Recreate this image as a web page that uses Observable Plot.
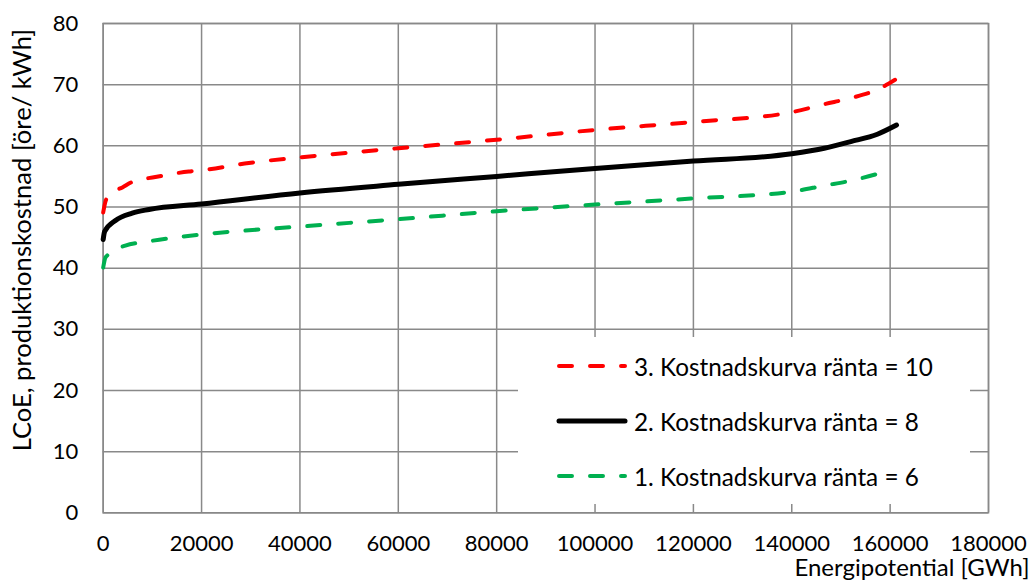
<!DOCTYPE html>
<html>
<head>
<meta charset="utf-8">
<script src="https://cdn.jsdelivr.net/npm/d3@7"></script>
<script src="https://cdn.jsdelivr.net/npm/@observablehq/plot@0.6"></script>
<style>
  html, body { margin: 0; padding: 0; background: #fff; }
  #wrap { position: relative; width: 1032px; height: 580px; font-family: Lato, "Open Sans", sans-serif; }
  #legend { position: absolute; left: 518px; top: 337px; width: 452px; height: 167px; background: #fff; }
  .row { position: absolute; left: 0; height: 30px; display: flex; align-items: center; }
  .row svg { margin-left: 37px; }
  .row span { font-size: 24.3px; color: #000; margin-left: 5px; white-space: nowrap; }
</style>
</head>
<body>
<div id="wrap"></div>
<script>
// ---- data ----
const seriesNames = ["3. Kostnadskurva ränta = 10", "2. Kostnadskurva ränta = 8", "1. Kostnadskurva ränta = 6"];
const seriesColors = ["#FF0000", "#000000", "#00B050"];

const energy10 = [0, 500, 1500, 3900, 5900, 10600, 17400, 20000, 29600, 40000, 60000, 80000, 100000, 120000, 140000, 146600, 152000, 157700, 161000];
const lcoe10   = [49.1, 51.0, 52.2, 53.2, 54.1, 54.9, 55.8, 56.0, 57.2, 58.1, 59.6, 61.0, 62.6, 63.9, 65.5, 66.8, 67.8, 69.3, 70.8];

const energy8 = [0, 300, 2500, 5900, 9300, 20000, 40000, 60000, 80000, 100000, 120000, 140000, 146600, 152000, 157400, 161300];
const lcoe8   = [44.7, 46.0, 47.8, 49.0, 49.6, 50.5, 52.3, 53.7, 55.0, 56.3, 57.5, 58.7, 59.6, 60.7, 61.9, 63.4];

const energy6 = [0, 500, 4500, 8600, 20000, 40000, 60000, 80000, 100000, 120000, 140000, 146600, 152000, 160000];
const lcoe6   = [40.1, 41.8, 43.7, 44.3, 45.5, 46.8, 48.0, 49.3, 50.4, 51.4, 52.5, 53.5, 54.3, 56.0];

const xTicks = [0, 20000, 40000, 60000, 80000, 100000, 120000, 140000, 160000, 180000];
const yTicks = [0, 10, 20, 30, 40, 50, 60, 70, 80];
const xLabel = "Energipotential [GWh]";
const yLabel = "LCoE, produktionskostnad [öre/ kWh]";

const toRows = (xs, ys, s) => xs.map((x, i) => ({x, y: ys[i], s}));
const d10 = toRows(energy10, lcoe10, seriesNames[0]);
const d8  = toRows(energy8, lcoe8, seriesNames[1]);
const d6  = toRows(energy6, lcoe6, seriesNames[2]);

const gridColor = "#898989";
const fontSize = 22;
const labelSize = 24;

const chart = Plot.plot({
  width: 1032,
  height: 580,
  marginLeft: 102.7,
  marginRight: 44,
  marginTop: 23,
  marginBottom: 67.7,
  style: { fontFamily: "Lato, 'Open Sans', sans-serif", fontSize: fontSize + "px", color: "#000", background: "#fff" },
  x: { domain: [0, 180000] },
  y: { domain: [0, 80] },
  marks: [
    Plot.gridX(xTicks, { stroke: gridColor, strokeOpacity: 1, strokeWidth: 1.5 }),
    Plot.gridY(yTicks, { stroke: gridColor, strokeOpacity: 1, strokeWidth: 1.5 }),
    Plot.frame({ stroke: gridColor, strokeWidth: 1.5 }),
    Plot.axisX(xTicks, { tickSize: 0, tickPadding: 22.5, tickFormat: d => String(d), label: null, fontSize: fontSize }),
    Plot.axisY(yTicks, { tickSize: 0, tickPadding: 25, tickFormat: d => String(d), label: null, fontSize: fontSize }),
    Plot.line(d6, { x: "x", y: "y", stroke: seriesColors[2], strokeWidth: 4, strokeDasharray: "13,18", strokeLinecap: "round", curve: "monotone-x" }),
    Plot.line(d10, { x: "x", y: "y", stroke: seriesColors[0], strokeWidth: 4, strokeDasharray: "13,18", strokeLinecap: "round", curve: "monotone-x" }),
    Plot.line(d8, { x: "x", y: "y", stroke: seriesColors[1], strokeWidth: 5, strokeLinecap: "round", curve: "monotone-x" }),
    Plot.text([xLabel], { frameAnchor: "bottom-right", textAnchor: "end", lineAnchor: "middle", dx: 41, dy: 55.5, fontSize: labelSize, fill: "#000" }),
    Plot.text([yLabel], { frameAnchor: "left", textAnchor: "middle", lineAnchor: "middle", rotate: -90, dx: -80, dy: -28, fontSize: 25.6, fill: "#000" })
  ]
});

const wrap = document.getElementById("wrap");
wrap.appendChild(chart);

// legend overlay
const legend = document.createElement("div");
legend.id = "legend";
const rowTops = [14, 69, 124];
seriesNames.forEach((name, i) => {
  const row = document.createElement("div");
  row.className = "row";
  row.style.top = rowTops[i] + "px";
  const dashed = i !== 1;
  row.innerHTML = `<svg width="74" height="10"><line x1="4" y1="5" x2="70" y2="5" stroke="${seriesColors[i]}" stroke-width="${dashed ? 4 : 5}" stroke-linecap="round" ${dashed ? 'stroke-dasharray="13,18"' : ''}/></svg><span>${name}</span>`;
  legend.appendChild(row);
});
wrap.appendChild(legend);
</script>
</body>
</html>
